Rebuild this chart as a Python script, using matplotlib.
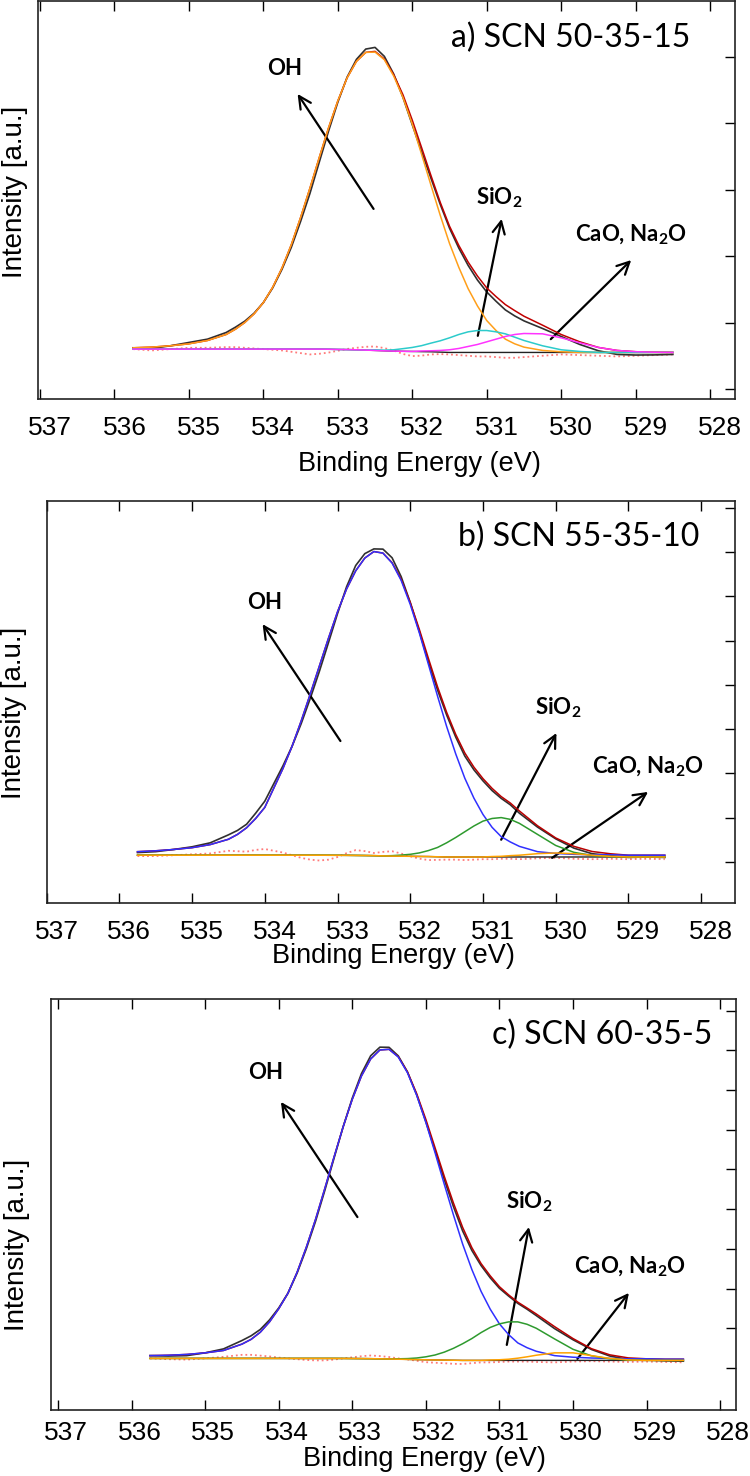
"""
O 1s XPS spectra of the three SCN glasses with the fitted components
(OH, SiO2, CaO/Na2O), stacked in three panels.
"""

import matplotlib
matplotlib.use("Agg")
import matplotlib.pyplot as plt
from matplotlib.transforms import ScaledTranslation

plt.rcParams["mathtext.fontset"] = "custom"
plt.rcParams["mathtext.rm"] = "Lato:bold"
plt.rcParams["mathtext.it"] = "Lato:bold"
plt.rcParams["mathtext.bf"] = "Lato:bold"

# binding energy grid (eV), shared by all spectra; finer around the peaks
energy = [535.75, 535.5, 535.25, 535.0, 534.75, 534.5, 534.375, 534.25, 534.125, 534.0,
          533.875, 533.75, 533.625, 533.5, 533.375, 533.25, 533.125, 533.0, 532.875, 532.75,
          532.625, 532.5, 532.375, 532.25, 532.125, 532.0, 531.875, 531.75, 531.625, 531.5,
          531.375, 531.25, 531.125, 531.0, 530.875, 530.75, 530.625, 530.5, 530.25, 530.0,
          529.75, 529.5, 529.25, 529.0, 528.75, 528.5]

# ---- a) SCN 50-35-15 (intensity, arbitrary units) ----
bg_a = [0.60, 0.60, 0.60, 0.60, 0.60, 0.60, 0.60, 0.60, 0.60, 0.60,
        0.60, 0.60, 0.60, 0.60, 0.60, 0.60, 0.598, 0.595, 0.593, 0.59,
        0.585, 0.58, 0.575, 0.57, 0.567, 0.565, 0.562, 0.56, 0.555, 0.55,
        0.55, 0.55, 0.55, 0.55, 0.55, 0.55, 0.55, 0.55, 0.55, 0.55,
        0.55, 0.55, 0.55, 0.55, 0.55, 0.55]
oh_a = [0.02, 0.03, 0.05, 0.08, 0.13, 0.22, 0.30, 0.40, 0.53, 0.70,
        0.93, 1.22, 1.57, 1.98, 2.42, 2.88, 3.33, 3.74, 4.09, 4.34,
        4.48, 4.49, 4.38, 4.14, 3.82, 3.42, 2.97, 2.51, 2.06, 1.64,
        1.28, 0.96, 0.70, 0.48, 0.33, 0.20, 0.13, 0.08, 0.03, 0.01,
        0.0, 0.0, 0.0, 0.0, 0.0, 0.0]
sio2_a = [0.0, 0.0, 0.0, 0.0, 0.0, 0.0, 0.0, 0.0, 0.0, 0.0,
          0.0, 0.0, 0.0, 0.0, 0.0, 0.0, 0.0, 0.0, 0.0, 0.0,
          0.0, 0.01, 0.01, 0.02, 0.04, 0.06, 0.09, 0.13, 0.17, 0.22,
          0.27, 0.31, 0.33, 0.33, 0.31, 0.28, 0.23, 0.18, 0.10, 0.04,
          0.015, 0.0, 0.0, 0.0, 0.0, 0.0]
cao_a = [0.0, 0.0, 0.0, 0.0, 0.0, 0.0, 0.0, 0.0, 0.0, 0.0,
         0.0, 0.0, 0.0, 0.0, 0.0, 0.0, 0.0, 0.0, 0.0, 0.0,
         0.0, 0.0, 0.0, 0.0, 0.0, 0.0, 0.01, 0.015, 0.025, 0.04,
         0.06, 0.09, 0.12, 0.16, 0.20, 0.24, 0.27, 0.285, 0.28, 0.22,
         0.145, 0.075, 0.03, 0.011, 0.003, 0.0]
resid_a = [0.0, -0.02, 0.0, 0.02, 0.02, 0.03, 0.03, 0.02, 0.01, 0.0,
           -0.01, -0.02, -0.04, -0.06, -0.08, -0.07, -0.05, -0.02, 0.01, 0.03,
           0.05, 0.06, 0.04, 0.01, -0.04, -0.07, -0.06, -0.04, -0.03, -0.03,
           -0.04, -0.05, -0.06, -0.06, -0.07, -0.08, -0.08, -0.07, -0.05, -0.03,
           -0.04, -0.05, -0.06, -0.05, -0.04, -0.03]

# ---- b) SCN 55-35-10 ----
bg_b = [0.15, 0.15, 0.15, 0.15, 0.15, 0.15, 0.15, 0.15, 0.15, 0.15,
        0.15, 0.15, 0.15, 0.15, 0.15, 0.15, 0.149, 0.148, 0.147, 0.145,
        0.143, 0.14, 0.135, 0.13, 0.128, 0.125, 0.122, 0.12, 0.115, 0.11,
        0.11, 0.11, 0.11, 0.11, 0.11, 0.11, 0.11, 0.11, 0.11, 0.11,
        0.11, 0.11, 0.11, 0.11, 0.11, 0.11]
oh_b = [0.08, 0.10, 0.13, 0.17, 0.24, 0.36, 0.47, 0.62, 0.83, 1.08,
        1.52, 1.96, 2.46, 3.03, 3.64, 4.27, 4.90, 5.50, 6.02, 6.43,
        6.72, 6.87, 6.84, 6.62, 6.23, 5.69, 5.05, 4.34, 3.63, 2.95,
        2.33, 1.78, 1.33, 0.96, 0.67, 0.46, 0.34, 0.24, 0.12, 0.08,
        0.06, 0.05, 0.05, 0.04, 0.04, 0.04]
sio2_b = [0.0, 0.0, 0.0, 0.0, 0.0, 0.0, 0.0, 0.0, 0.0, 0.0,
          0.0, 0.0, 0.0, 0.0, 0.0, 0.0, 0.0, 0.0, 0.0, 0.0,
          0.0, 0.0, 0.0, 0.01, 0.025, 0.045, 0.08, 0.135, 0.21, 0.32,
          0.44, 0.57, 0.70, 0.81, 0.87, 0.89, 0.85, 0.76, 0.51, 0.26,
          0.105, 0.034, 0.008, 0.0, 0.0, 0.0]
cao_b = [0.0, 0.0, 0.0, 0.0, 0.0, 0.0, 0.0, 0.0, 0.0, 0.0,
         0.0, 0.0, 0.0, 0.0, 0.0, 0.0, 0.0, 0.0, 0.0, 0.0,
         0.0, 0.0, 0.0, 0.0, 0.0, 0.0, 0.0, 0.0, 0.0, 0.0,
         0.0, 0.0, 0.0, 0.0, 0.01, 0.015, 0.03, 0.04, 0.075, 0.09,
         0.075, 0.04, 0.015, 0.0, 0.0, 0.0]
resid_b = [-0.02, -0.02, 0.0, 0.02, 0.04, 0.10, 0.09, 0.08, 0.12, 0.14,
           0.10, 0.06, 0.0, -0.06, -0.10, -0.12, -0.10, -0.04, 0.05, 0.12,
           0.10, 0.06, 0.09, 0.11, 0.06, 0.0, -0.05, -0.08, -0.07, -0.06,
           -0.06, -0.07, -0.06, -0.05, -0.05, -0.04, -0.04, -0.05, -0.03, -0.02,
           -0.04, -0.05, -0.04, -0.05, -0.04, -0.05]

# ---- c) SCN 60-35-5 ----
bg_c = [0.24, 0.24, 0.24, 0.24, 0.24, 0.24, 0.24, 0.24, 0.24, 0.24,
        0.24, 0.24, 0.24, 0.24, 0.24, 0.24, 0.239, 0.237, 0.235, 0.233,
        0.229, 0.225, 0.22, 0.215, 0.21, 0.205, 0.201, 0.198, 0.194, 0.19,
        0.19, 0.19, 0.19, 0.19, 0.19, 0.19, 0.19, 0.19, 0.19, 0.19,
        0.19, 0.19, 0.19, 0.19, 0.19, 0.19]
oh_c = [0.07, 0.08, 0.10, 0.14, 0.20, 0.36, 0.48, 0.66, 0.92, 1.25,
        1.64, 2.17, 2.80, 3.50, 4.27, 5.06, 5.83, 6.53, 7.12, 7.55,
        7.78, 7.80, 7.61, 7.22, 6.66, 5.98, 5.22, 4.43, 3.66, 2.93,
        2.29, 1.74, 1.29, 0.92, 0.65, 0.44, 0.32, 0.23, 0.12, 0.08,
        0.06, 0.05, 0.04, 0.04, 0.03, 0.03]
sio2_c = [0.0, 0.0, 0.0, 0.0, 0.0, 0.0, 0.0, 0.0, 0.0, 0.0,
          0.0, 0.0, 0.0, 0.0, 0.0, 0.0, 0.0, 0.0, 0.0, 0.0,
          0.0, 0.0, 0.01, 0.02, 0.04, 0.075, 0.125, 0.20, 0.30, 0.42,
          0.55, 0.70, 0.83, 0.92, 0.97, 0.97, 0.91, 0.81, 0.54, 0.28,
          0.115, 0.04, 0.01, 0.0, 0.0, 0.0]
cao_c = [0.0, 0.0, 0.0, 0.0, 0.0, 0.0, 0.0, 0.0, 0.0, 0.0,
         0.0, 0.0, 0.0, 0.0, 0.0, 0.0, 0.0, 0.0, 0.0, 0.0,
         0.0, 0.0, 0.0, 0.0, 0.0, 0.0, 0.0, 0.0, 0.0, 0.0,
         0.0, 0.0, 0.01, 0.016, 0.03, 0.056, 0.09, 0.13, 0.19, 0.19,
         0.12, 0.05, 0.013, 0.0, 0.0, 0.0]
resid_c = [0.0, -0.02, -0.03, 0.0, 0.04, 0.09, 0.09, 0.07, 0.05, 0.02,
           0.0, -0.02, -0.04, -0.05, -0.05, -0.03, 0.0, 0.03, 0.06, 0.08,
           0.07, 0.05, 0.02, 0.0, -0.03, -0.06, -0.07, -0.08, -0.09, -0.09,
           -0.07, -0.05, -0.05, -0.04, -0.03, -0.03, -0.03, -0.04, -0.05, -0.03,
           -0.02, -0.03, -0.04, -0.03, -0.04, -0.05]

titles = ["a) SCN 50-35-15", "b) SCN 55-35-10", "c) SCN 60-35-5"]
x_ticks = [537, 536, 535, 534, 533, 532, 531, 530, 529, 528]

AX_FONT = "Liberation Sans"
NOTE_FONT = "Lato"


def draw_panel(ax, bg, oh, sio2, cao, resid, cfg):
    comps = [oh, sio2, cao]
    fit = [b + o + s + c for b, o, s, c in zip(bg, oh, sio2, cao)]
    raw = [f + r for f, r in zip(fit, resid)]
    res_line = [b + r for b, r in zip(bg, resid)]

    ax.plot(energy, res_line, color="#ff7a7a", lw=1.3, ls=":", zorder=1)
    ax.plot(energy, bg, color="#222222", lw=1.0, zorder=2)
    ax.plot(energy, raw, color="#303030", lw=1.2, zorder=3)
    ax.plot(energy, fit, color=cfg["fit_color"], lw=1.1, zorder=4)
    for i in [1, 2, 0]:
        vals = [b + v for b, v in zip(bg, comps[i])]
        ax.plot(energy, vals, color=cfg["colors"][i], lw=1.1, zorder=5 + i)

    ax.set_xlim(*cfg["xlim"])
    ax.set_ylim(*cfg["ylim"])
    ax.set_xticks(x_ticks)
    ax.set_yticks(range(cfg["n_yticks"]))
    ax.tick_params(axis="x", direction="in", top=True, bottom=True, length=7,
                   width=1, labelsize=19, pad=cfg["xpad"])
    ax.tick_params(axis="y", direction="in", left=False, right=True,
                   labelleft=False, length=7, width=1)
    for lab in ax.get_xticklabels():
        lab.set_fontfamily(AX_FONT)
        lab.set_transform(lab.get_transform()
                          + ScaledTranslation(cfg["xshift"] / 100, 0,
                                              ax.figure.dpi_scale_trans))
    for sp in ax.spines.values():
        sp.set_linewidth(1.2)
        sp.set_color("#222222")

    ax.set_xlabel("Binding Energy (eV)", fontsize=19.5, family=AX_FONT, va="center")
    ax.xaxis.set_label_coords(*cfg["xlabel_pos"])
    ax.set_ylabel("Intensity [a.u.]", fontsize=20, family=AX_FONT, va="center")
    ax.yaxis.set_label_coords(*cfg["ylabel_pos"])

    tx, ty = cfg["title_pos"]
    ax.text(tx, ty, cfg["title"], ha="right", va="center", fontsize=23,
            family=NOTE_FONT)

    labels = ["OH", "SiO$_2$", "CaO, Na$_2$O"]
    for lab, (lx, ly), (tail, head) in zip(labels, cfg["label_pos"], cfg["arrows"]):
        ax.text(lx, ly, lab, ha="center", va="center", fontsize=16,
                fontweight="bold", family=NOTE_FONT)
        ax.annotate("", xy=head, xytext=tail,
                    arrowprops=dict(arrowstyle="->", lw=1.6, color="black",
                                    mutation_scale=22, shrinkA=0, shrinkB=0))


def main():
    fig = plt.figure(figsize=(7.5, 14.76), dpi=100)

    cfgs = [
        dict(rect=[0.0513, 0.7297, 0.9293, 0.2697], xlim=(537.02, 527.66),
             ylim=(-0.15, 5.84), n_yticks=6, xpad=12, xshift=10,
             fit_color="#c00000", colors=["#ff9f1a", "#2ccbcb", "#ff33ff"],
             xlabel_pos=(0.546, -0.163), ylabel_pos=(-0.034, 0.52),
             title=titles[0], title_pos=(528.27, 5.29),
             label_pos=[(533.71, 4.83), (530.83, 2.88), (529.06, 2.32)],
             arrows=[((532.52, 2.71), (533.54, 4.44)),
                     ((531.12, 0.80), (530.80, 2.56)),
                     ((530.14, 0.75), (529.06, 1.94))]),
        dict(rect=[0.0621, 0.3882, 0.9184, 0.2723], xlim=(537.0, 527.53),
             ylim=(-0.93, 8.15), n_yticks=9, xpad=12, xshift=10,
             fit_color="#b80000", colors=["#3030ff", "#2e9a2e", "#ffa200"],
             xlabel_pos=(0.504, -0.132), ylabel_pos=(-0.047, 0.474),
             title=titles[1], title_pos=(528.03, 7.34),
             label_pos=[(534.0, 5.85), (529.97, 3.48), (528.73, 2.14)],
             arrows=[((532.96, 2.73), (534.03, 5.37)),
                     ((530.75, 0.50), (529.99, 2.91)),
                     ((530.05, 0.09), (528.73, 1.58))]),
        dict(rect=[0.0685, 0.0447, 0.9123, 0.2784], xlim=(537.09, 527.79),
             ylim=(-1.06, 9.29), n_yticks=10, xpad=8, xshift=8,
             fit_color="#b80000", colors=["#3030ff", "#2e9a2e", "#ffa200"],
             xlabel_pos=(0.545, -0.118), ylabel_pos=(-0.050, 0.403),
             title=titles[2], title_pos=(528.11, 8.39),
             label_pos=[(534.18, 7.43), (530.60, 4.18), (529.22, 2.54)],
             arrows=[((532.93, 3.80), (533.97, 6.70)),
                     ((530.90, 0.58), (530.60, 3.55)),
                     ((529.94, 0.23), (529.24, 1.89))]),
    ]
    data = [(bg_a, oh_a, sio2_a, cao_a, resid_a),
            (bg_b, oh_b, sio2_b, cao_b, resid_b),
            (bg_c, oh_c, sio2_c, cao_c, resid_c)]

    for cfg, series in zip(cfgs, data):
        ax = fig.add_axes(cfg["rect"])
        draw_panel(ax, *series, cfg)

    fig.savefig("out.png", dpi=100)
    plt.close(fig)


if __name__ == "__main__":
    main()
